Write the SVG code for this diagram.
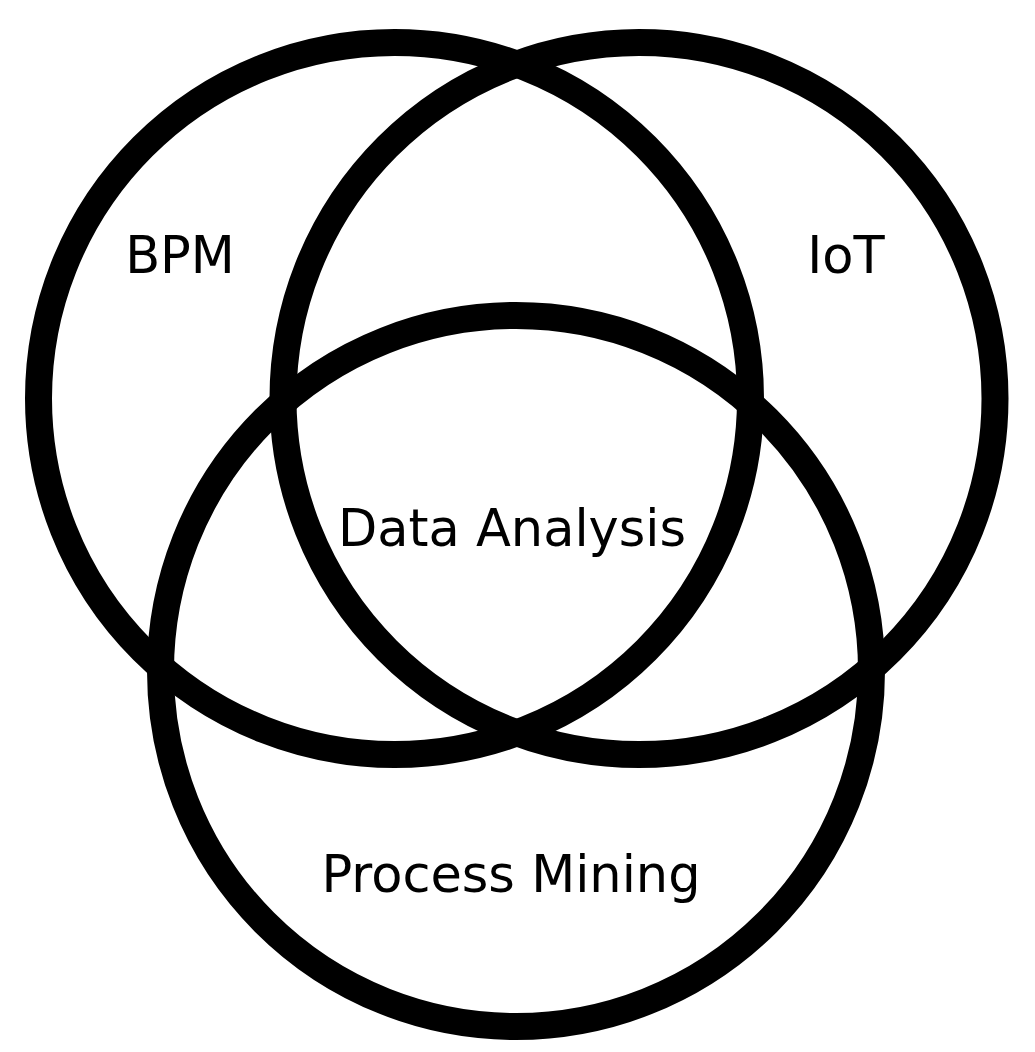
<svg xmlns="http://www.w3.org/2000/svg" width="1035" height="1052" viewBox="0 0 1035 1052">
<style>
.c{fill:none;stroke:#000;stroke-width:27}
.t{font-family:"DejaVu Sans",sans-serif;font-size:51px;fill:#000;text-anchor:middle}
</style>
<rect width="1035" height="1052" fill="#fff"/>
<g id="bpm"><circle class="c" cx="394.5" cy="398.5" r="356"/><text class="t" x="180" y="273">BPM</text></g>
<g id="iot"><circle class="c" cx="639" cy="398.5" r="356"/><text class="t" x="846" y="273">IoT</text></g>
<g id="pm"><circle class="c" cx="516" cy="671" r="355.5"/><text class="t" x="511" y="892">Process Mining</text></g>
<g id="da"><text class="t" x="512" y="546">Data Analysis</text></g>
<g id="connectors"></g>
</svg>
